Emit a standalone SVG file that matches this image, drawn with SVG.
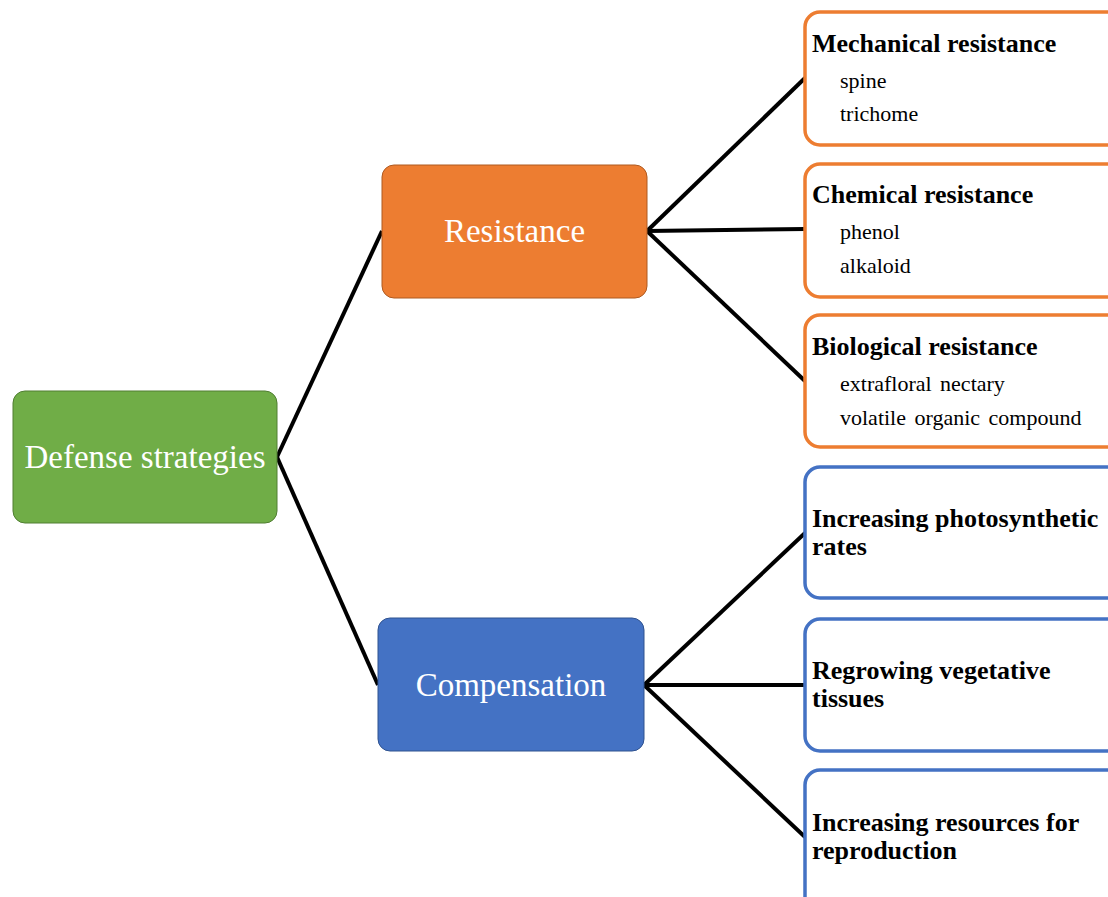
<svg xmlns="http://www.w3.org/2000/svg" width="1108" height="897" viewBox="0 0 1108 897">
<style>
.main{font-family:"Liberation Serif","Times New Roman",serif;font-size:33px;fill:#fff;text-anchor:middle}
.h{font-family:"Liberation Serif","Times New Roman",serif;font-size:26px;font-weight:bold;fill:#000}
.s{font-family:"Liberation Serif","Times New Roman",serif;font-size:22px;fill:#000;word-spacing:3px}
.or{fill:#fff;stroke:#ED7D31;stroke-width:3.5}
.bl{fill:#fff;stroke:#4472C4;stroke-width:3.5}
.c{stroke:#000;stroke-width:4;fill:none}
</style>
<rect width="1108" height="897" fill="#fff"/>
<g id="connectors">
<line class="c" x1="277" y1="457" x2="382" y2="231"/>
<line class="c" x1="277" y1="457" x2="378" y2="685"/>
<line class="c" x1="647" y1="231" x2="805" y2="78"/>
<line class="c" x1="647" y1="231" x2="805" y2="229"/>
<line class="c" x1="647" y1="231" x2="805" y2="381"/>
<line class="c" x1="644" y1="685" x2="805" y2="533"/>
<line class="c" x1="644" y1="685" x2="805" y2="685"/>
<line class="c" x1="644" y1="685" x2="805" y2="837"/>
</g>
<g id="defense">
<rect x="13" y="391" width="264" height="132" rx="12" fill="#70AD47" stroke="#507E32" stroke-width="1"/>
<text class="main" x="145" y="468">Defense strategies</text>
</g>
<g id="resistance">
<rect x="382" y="165" width="265" height="133" rx="12" fill="#ED7D31" stroke="#AE5A21" stroke-width="1"/>
<text class="main" x="514.5" y="242">Resistance</text>
</g>
<g id="compensation">
<rect x="378" y="618" width="266" height="133" rx="12" fill="#4472C4" stroke="#2F528F" stroke-width="1"/>
<text class="main" x="511" y="696">Compensation</text>
</g>
<g id="mechanical">
<rect class="or" x="805" y="12" width="330" height="133" rx="15"/>
<text class="h" x="812" y="52">Mechanical resistance</text>
<text class="s" x="840" y="88">spine</text>
<text class="s" x="840" y="121">trichome</text>
</g>
<g id="chemical">
<rect class="or" x="805" y="164" width="330" height="133" rx="15"/>
<text class="h" x="812" y="203">Chemical resistance</text>
<text class="s" x="840" y="239">phenol</text>
<text class="s" x="840" y="273">alkaloid</text>
</g>
<g id="biological">
<rect class="or" x="805" y="315" width="330" height="132" rx="15"/>
<text class="h" x="812" y="355">Biological resistance</text>
<text class="s" x="840" y="391">extrafloral nectary</text>
<text class="s" x="840" y="425">volatile organic compound</text>
</g>
<g id="photosynthetic">
<rect class="bl" x="805" y="467" width="330" height="131" rx="15"/>
<text class="h" x="812" y="527">Increasing photosynthetic</text>
<text class="h" x="812" y="555">rates</text>
</g>
<g id="regrowing">
<rect class="bl" x="805" y="619" width="330" height="132" rx="15"/>
<text class="h" x="812" y="679">Regrowing vegetative</text>
<text class="h" x="812" y="707">tissues</text>
</g>
<g id="resources">
<rect class="bl" x="805" y="770" width="330" height="160" rx="15"/>
<text class="h" x="812" y="831">Increasing resources for</text>
<text class="h" x="812" y="859">reproduction</text>
</g>
</svg>
